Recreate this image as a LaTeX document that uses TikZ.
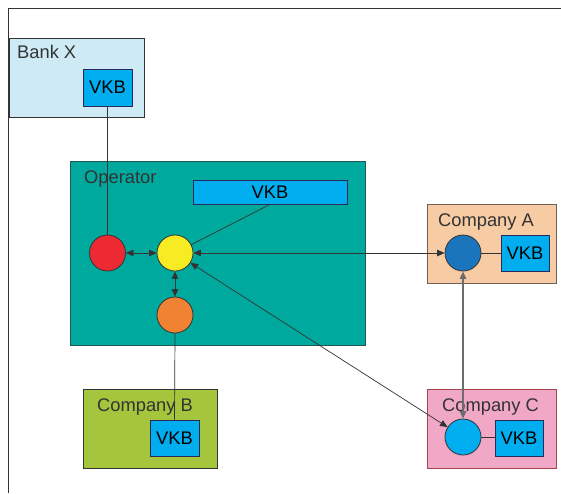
\documentclass[tikz,border=0pt]{standalone}
\usepackage{fontspec}
\setmainfont{Liberation Sans}
\usetikzlibrary{arrows.meta}
\definecolor{bankfill}{HTML}{CDEAF5}
\definecolor{opfill}{HTML}{00A99D}
\definecolor{vkbfill}{HTML}{00AEEF}
\definecolor{cafill}{HTML}{F7CBA4}
\definecolor{cbfill}{HTML}{A4C53C}
\definecolor{ccfill}{HTML}{F1A7C6}
\definecolor{redc}{HTML}{ED2A33}
\definecolor{yelc}{HTML}{F7EC23}
\definecolor{orac}{HTML}{EF8233}
\definecolor{bluc}{HTML}{1B75BC}
\definecolor{edge}{HTML}{333333}
\tikzset{
  area/.style={draw=edge, line width=0.9pt, inner sep=0pt},
  vkb/.style={draw=edge!80!blue, fill=vkbfill, line width=0.8pt, inner sep=0pt, font=\fontsize{18.3}{21}\selectfont},
  lbl/.style={anchor=base west, inner sep=0pt, text=edge, font=\fontsize{18.3}{21}\selectfont},
  ball/.style={circle, draw=edge, line width=0.8pt, minimum size=36pt, inner sep=0pt},
  link/.style={draw=edge, line width=0.7pt},
  both/.style={link, {Triangle[length=7.5pt,width=6.5pt]}-{Triangle[length=7.5pt,width=6.5pt]}}
}
\begin{document}
\begin{tikzpicture}[x=1pt,y=-1pt]
\useasboundingbox (0,0) rectangle (561,493);
% frame
\draw[edge, line width=0.9pt] (8,493) -- (8,8) -- (561,8);
% boxes
\node[area, fill=bankfill, minimum width=135pt, minimum height=79pt] (bank) at (76.5,77.5) {};
\node[lbl] (banklbl) at (17,58.5) {Bank X};
\node[vkb, minimum width=49pt, minimum height=37pt] (bvkb) at (107.5,87.5) {VKB};

\node[area, fill=opfill, draw=edge!70!opfill, minimum width=295pt, minimum height=184pt] (op) at (217.5,253) {};
\node[lbl] (oplbl) at (84,183.5) {Operator};
\node[vkb, minimum width=154pt, minimum height=24pt] (ovkb) at (270,192) {VKB};

\node[area, fill=cafill, draw=edge!70!cafill, minimum width=129pt, minimum height=79pt] (ca) at (491.5,243.5) {};
\node[lbl] (calbl) at (438,226) {Company A};
\node[vkb, minimum width=48pt, minimum height=36pt] (avkb) at (525,253) {VKB};

\node[area, fill=cbfill, minimum width=134pt, minimum height=79pt] (cb) at (150,428.5) {};
\node[lbl] (cblbl) at (97,411) {Company B};
\node[vkb, minimum width=49pt, minimum height=36pt] (bbvkb) at (174.5,438) {VKB};

\node[area, fill=ccfill, draw=edge!60!ccfill!70!red, minimum width=129pt, minimum height=79pt] (cc) at (491.5,428.5) {};
\node[lbl] (cclbl) at (442,411) {Company C};
\node[vkb, minimum width=48pt, minimum height=36pt] (cvkb) at (519,438) {VKB};

% circles
\node[ball, fill=redc] (red) at (107.5,253) {};
\node[ball, fill=yelc] (yel) at (175,253) {};
\node[ball, fill=orac] (ora) at (175,315) {};
\node[ball, fill=bluc] (blu) at (463,253) {};
\node[ball, fill=vkbfill] (cya) at (463,437) {};

% connectors
\draw[link] (bvkb.south) -- (red.north);
\draw[link] (ora.south) -- (bbvkb.north);
\draw[link] (ovkb.south) -- (yel);
\draw[link] (blu) -- (avkb.west);
\draw[link] (cya) -- (cya.center -| cvkb.west);
\draw[both] (red) -- (yel);
\draw[both] (yel) -- (ora);
\draw[both] (yel) -- (blu);
\draw[both] (yel) -- (cya);
\draw[both, draw=gray!85!black, line width=1.1pt] (blu) -- (cya);
\end{tikzpicture}
\end{document}
